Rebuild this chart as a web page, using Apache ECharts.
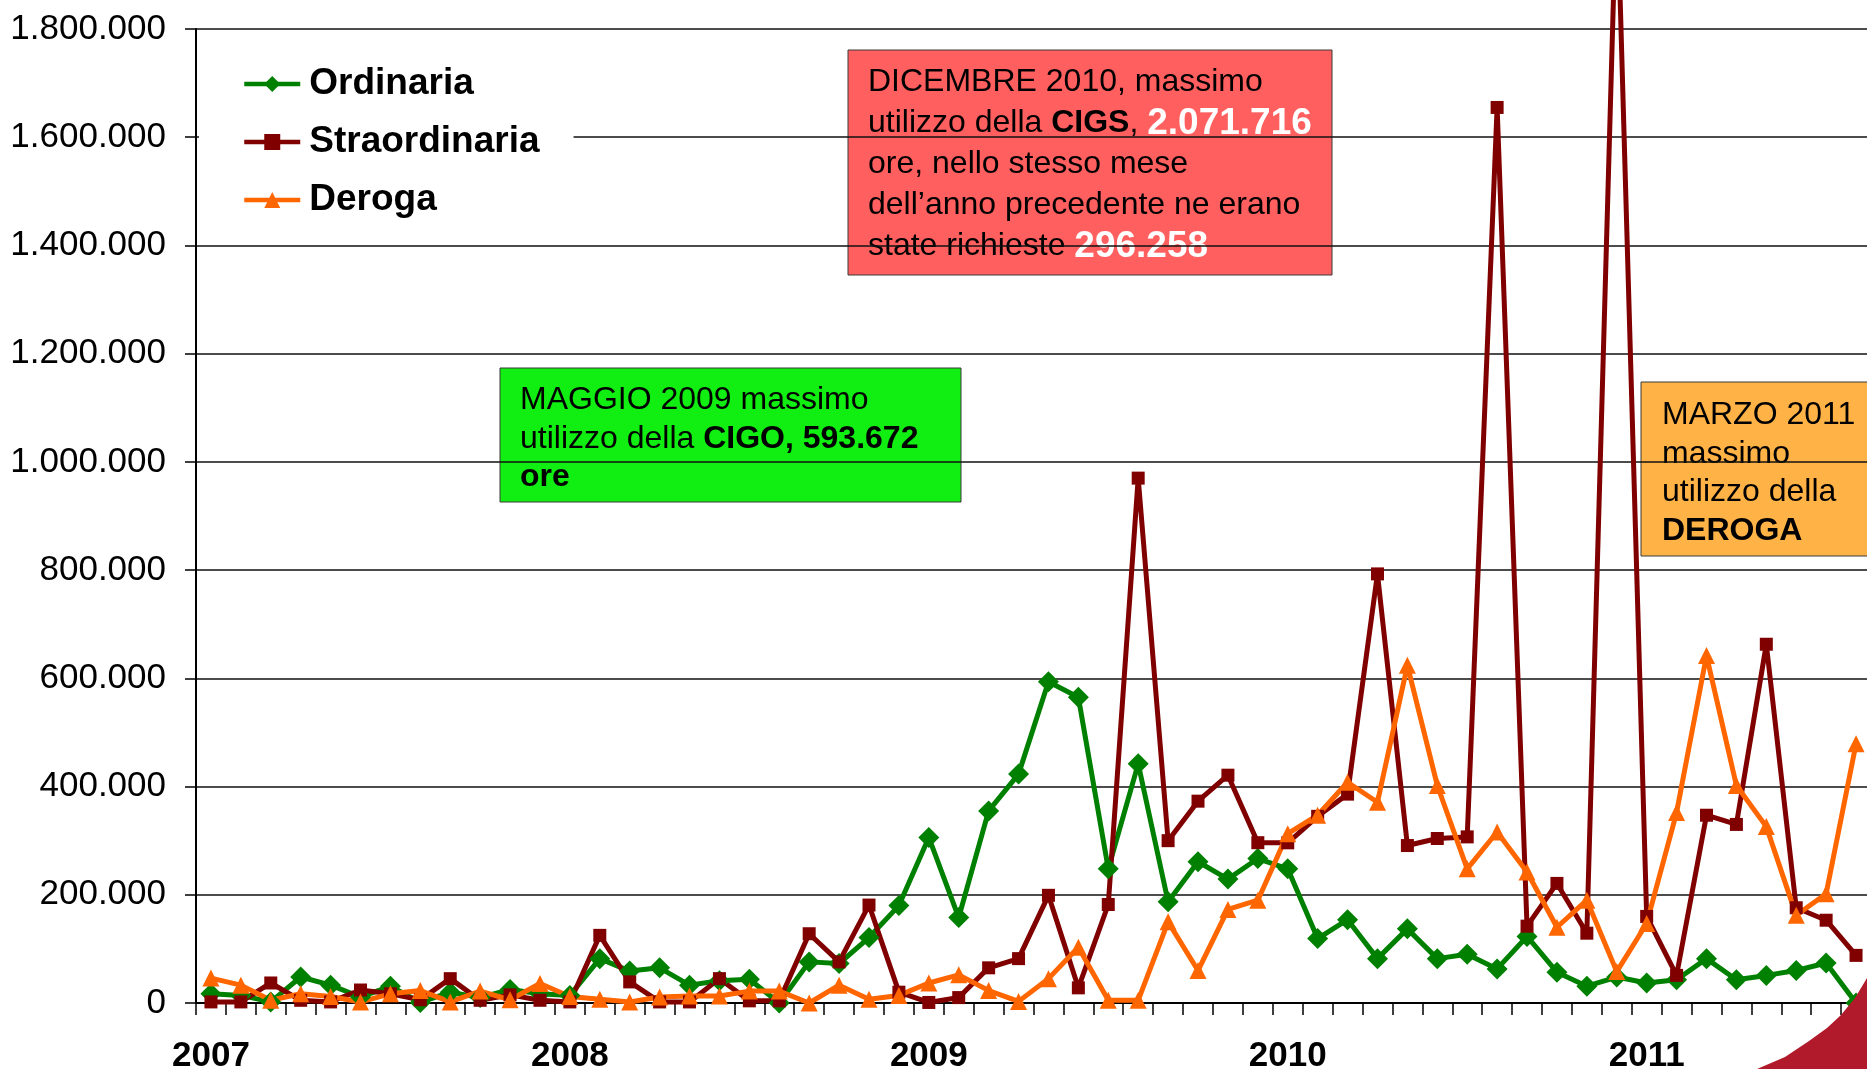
<!DOCTYPE html>
<html>
<head>
<meta charset="utf-8">
<script src="https://cdn.jsdelivr.net/npm/echarts@6/dist/echarts.min.js"></script>
<style>
  html, body { margin: 0; padding: 0; background: #fff; }
  #chart { width: 1867px; height: 1069px; }
</style>
</head>
<body>
<div id="chart"></div>
<script>
  // anni mostrati sull'asse x (un'etichetta a gennaio)
  var years = ['2007', '2008', '2009', '2010', '2011'];
  var monthsShown = 56; // gen 2007 - ago 2011

  var months = [];
  for (var y = 0; y < years.length; y++) {
    for (var m = 1; m <= 12; m++) {
      if (months.length < monthsShown) months.push(years[y] + '-' + (m < 10 ? '0' + m : m));
    }
  }

  // ore autorizzate per mese
  var ordinaria = [
    17000, 14000, 2000, 48000, 33000, 11000, 31000, 1000, 20000, 10000, 25000, 17000,
    14000, 82000, 59000, 65000, 33000, 41000, 44000, 0, 76000, 73000, 121000, 180000,
    306000, 158000, 355000, 423000, 593672, 565000, 248000, 442000, 187000, 261000, 229000, 267000,
    248000, 119000, 154000, 82000, 137000, 82000, 90000, 63000, 123000, 57000, 31000, 48000,
    37000, 43000, 82000, 43000, 51000, 60000, 74000, 0
  ];
  var straordinaria = [
    2000, 2000, 37000, 5000, 2000, 24000, 17000, 6000, 45000, 5000, 15000, 5000,
    2000, 125000, 39000, 2000, 2000, 45000, 4000, 4000, 128000, 76000, 181000, 20000,
    1000, 10000, 65000, 82000, 199000, 28000, 182000, 970000, 300000, 373000, 421000, 296258,
    296000, 345000, 386000, 793000, 291000, 304000, 307000, 1655000, 142000, 221000, 129000, 2071716,
    160000, 51000, 347000, 330000, 663000, 176000, 153000, 88000
  ];
  var deroga = [
    46000, 33000, 5000, 17000, 12000, 2000, 17000, 23000, 2000, 22000, 6000, 36000,
    12000, 7000, 2000, 11000, 13000, 13000, 22000, 22000, 0, 33000, 7000, 14000,
    37000, 52000, 23000, 3000, 45000, 103000, 5000, 5000, 150000, 60000, 173000, 190000,
    313000, 347000, 408000, 371000, 624000, 402000, 248000, 316000, 242000, 140000, 190000, 58000,
    147000, 352000, 642000, 402000, 326000, 162000, 202000, 479000
  ];

  var yMax = 1800000;
  var yStep = 200000;

  var font = '"Liberation Sans", Arial, sans-serif';

  function puntini(v) {
    return String(v).replace(/\B(?=(\d{3})+(?!\d))/g, '.');
  }

  var myChart = echarts.init(document.getElementById('chart'));

  var option = {
    backgroundColor: '#fff',
    animation: false,
    textStyle: { fontFamily: font },
    grid: { left: 196, top: 29, width: 1675, height: 974, outerBoundsMode: 'none', containLabel: false },
    legend: {
      data: ['Ordinaria', 'Straordinaria', 'Deroga'],
      orient: 'vertical',
      left: 199,
      top: 48,
      padding: [16, 34, 14, 43],
      backgroundColor: '#fff',
      itemWidth: 56,
      itemHeight: 20,
      itemGap: 18,
      lineStyle: { width: 4.5 },
      textStyle: { fontFamily: font, fontSize: 37, fontWeight: 'bold', color: '#000', lineHeight: 40, padding: [0, 0, 0, 4] }
    },
    xAxis: {
      type: 'category',
      data: months,
      boundaryGap: true,
      axisLine: { lineStyle: { color: '#000', width: 2 } },
      axisTick: { show: true, interval: 0, length: 12, lineStyle: { color: '#000', width: 1.5 } },
      axisLabel: {
        interval: 0,
        margin: 36,
        fontFamily: font,
        fontSize: 35,
        fontWeight: 'bold',
        color: '#000',
        formatter: function (v) { return v.slice(5) === '01' ? v.slice(0, 4) : ''; }
      },
      splitLine: { show: false }
    },
    yAxis: {
      type: 'value',
      min: 0,
      max: yMax,
      interval: yStep,
      axisLine: { show: true, lineStyle: { color: '#000', width: 2 } },
      axisTick: { show: true, length: 11, lineStyle: { color: '#000', width: 1.5 } },
      axisLabel: { margin: 30, fontFamily: font, fontSize: 35, color: '#000', formatter: puntini },
      splitLine: { lineStyle: { color: '#111', width: 1.5 } }
    },
    series: [
      {
        name: 'Ordinaria',
        type: 'line',
        data: ordinaria,
        symbol: 'diamond',
        symbolSize: 21,
        clip: false,
        itemStyle: { color: '#008000' },
        lineStyle: { color: '#008000', width: 5 }
      },
      {
        name: 'Straordinaria',
        type: 'line',
        data: straordinaria,
        symbol: 'rect',
        symbolSize: 13,
        clip: false,
        itemStyle: { color: '#800000' },
        lineStyle: { color: '#800000', width: 5 }
      },
      {
        name: 'Deroga',
        type: 'line',
        data: deroga,
        symbol: 'triangle',
        symbolSize: 17,
        clip: false,
        itemStyle: { color: '#FF6600' },
        lineStyle: { color: '#FF6600', width: 5 }
      }
    ],
    graphic: [
      {
        type: 'group', z: 100,
        children: [
          { type: 'rect', shape: { x: 848, y: 50, width: 484, height: 225 },
            style: { fill: '#FF5F5F', stroke: '#3a3a3a', lineWidth: 1 } },
          { type: 'text', x: 868, y: 62,
            style: {
              text: 'DICEMBRE 2010, massimo\nutilizzo della {b|CIGS}, {w|2.071.716}\nore, nello stesso mese\ndell\u2019anno precedente ne erano\nstate richieste {w|296.258}',
              fontFamily: font, fontSize: 32, fill: '#000', lineHeight: 41, verticalAlign: 'top',
              rich: {
                b: { fontFamily: font, fontSize: 32, fontWeight: 'bold', fill: '#000', lineHeight: 41 },
                w: { fontFamily: font, fontSize: 37, fontWeight: 'bold', fill: '#fff', lineHeight: 41 }
              }
            } }
        ]
      },
      {
        type: 'group', z: 100,
        children: [
          { type: 'rect', shape: { x: 500, y: 368, width: 461, height: 134 },
            style: { fill: '#11EE11', stroke: '#3a3a3a', lineWidth: 1 } },
          { type: 'text', x: 520, y: 381,
            style: {
              text: 'MAGGIO 2009 massimo\nutilizzo della {b|CIGO, 593.672}\n{b|ore}',
              fontFamily: font, fontSize: 32, fill: '#000', lineHeight: 38.5, verticalAlign: 'top',
              rich: {
                b: { fontFamily: font, fontSize: 32, fontWeight: 'bold', fill: '#000', lineHeight: 38.5 }
              }
            } }
        ]
      },
      {
        type: 'group', z: 100,
        children: [
          { type: 'rect', shape: { x: 1641, y: 382, width: 240, height: 174 },
            style: { fill: '#FFB347', stroke: '#3a3a3a', lineWidth: 1 } },
          { type: 'text', x: 1662, y: 396,
            style: {
              text: 'MARZO 2011\nmassimo\nutilizzo della\n{b|DEROGA}',
              fontFamily: font, fontSize: 32, fill: '#000', lineHeight: 38.5, verticalAlign: 'top',
              rich: {
                b: { fontFamily: font, fontSize: 32, fontWeight: 'bold', fill: '#000', lineHeight: 38.5 }
              }
            } }
        ]
      },
      {
        type: 'polygon', z: 90,
        shape: { points: [[1757, 1069], [1785, 1057], [1809, 1041], [1827, 1028], [1841, 1015], [1855, 998], [1867, 978], [1867, 1069]] },
        style: { fill: '#B11A2B' }
      }
    ]
  };

  myChart.setOption(option);
</script>
</body>
</html>
